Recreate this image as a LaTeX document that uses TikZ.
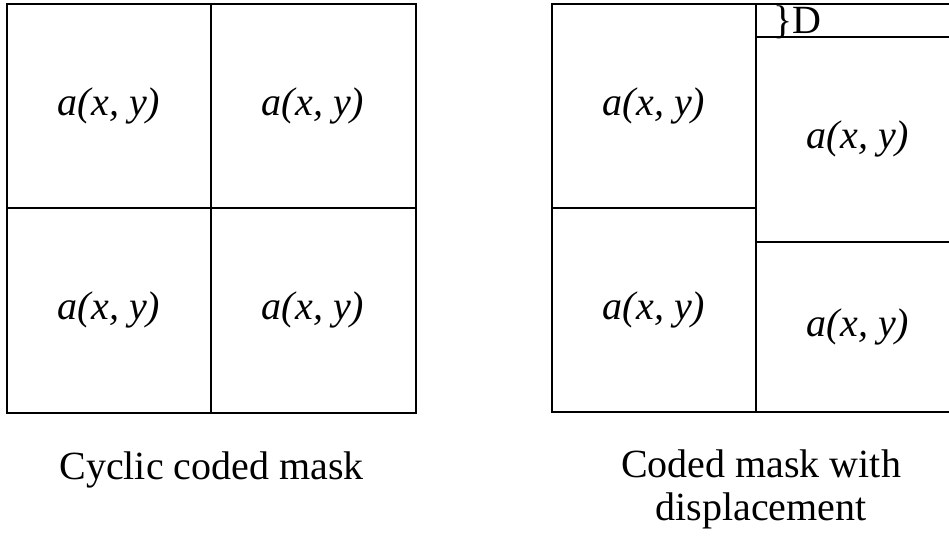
\documentclass[tikz,border=0pt]{standalone}
\usepackage{fontspec}
\setmainfont{Liberation Serif}
\usepackage{tikz}

\tikzset{
	cell/.style={font=\fontsize{20}{24}\selectfont\itshape},
	caption/.style={font=\fontsize{20}{21.5}\selectfont, align=center, anchor=base},
}

\begin{document}
\begin{tikzpicture}[x=0.5pt, y=-0.5pt, line width=0.75pt]
	\useasboundingbox (0,0) rectangle (949,536);
	\clip (0,0) rectangle (949,536);

	% cyclic coded mask
	\draw (7,4) rectangle (416,413);
	\draw (211,4) -- (211,413);
	\draw (7,208) -- (416,208);
	\node [cell] (cyc11) at (109,106) {a(x, y)};
	\node [cell] (cyc12) at (313,106) {a(x, y)};
	\node [cell] (cyc21) at (109,310) {a(x, y)};
	\node [cell] (cyc22) at (313,310) {a(x, y)};

	% mask with displacement
	\draw (961,4) -- (552,4) -- (552,412) -- (961,412);
	\draw (756,4) -- (756,412);
	\draw (552,208) -- (756,208);
	\draw (756,37) -- (961,37);
	\draw (756,242) -- (961,242);
	\node [cell] (dis11) at (654,106) {a(x, y)};
	\node [cell] (dis21) at (654,310) {a(x, y)};
	\node [cell] (dis12) at (858,139) {a(x, y)};
	\node [cell] (dis22) at (858,327) {a(x, y)};
	\node [anchor=base west, inner sep=0pt, font=\fontsize{20}{24}\selectfont]
		(shift) at (773,33) {\}D};

	\node [caption] (capcyc) at (211.5,479) {Cyclic coded mask};
	\node [caption] (capdis) at (761,520) {Coded mask with\\displacement};
\end{tikzpicture}
\end{document}
